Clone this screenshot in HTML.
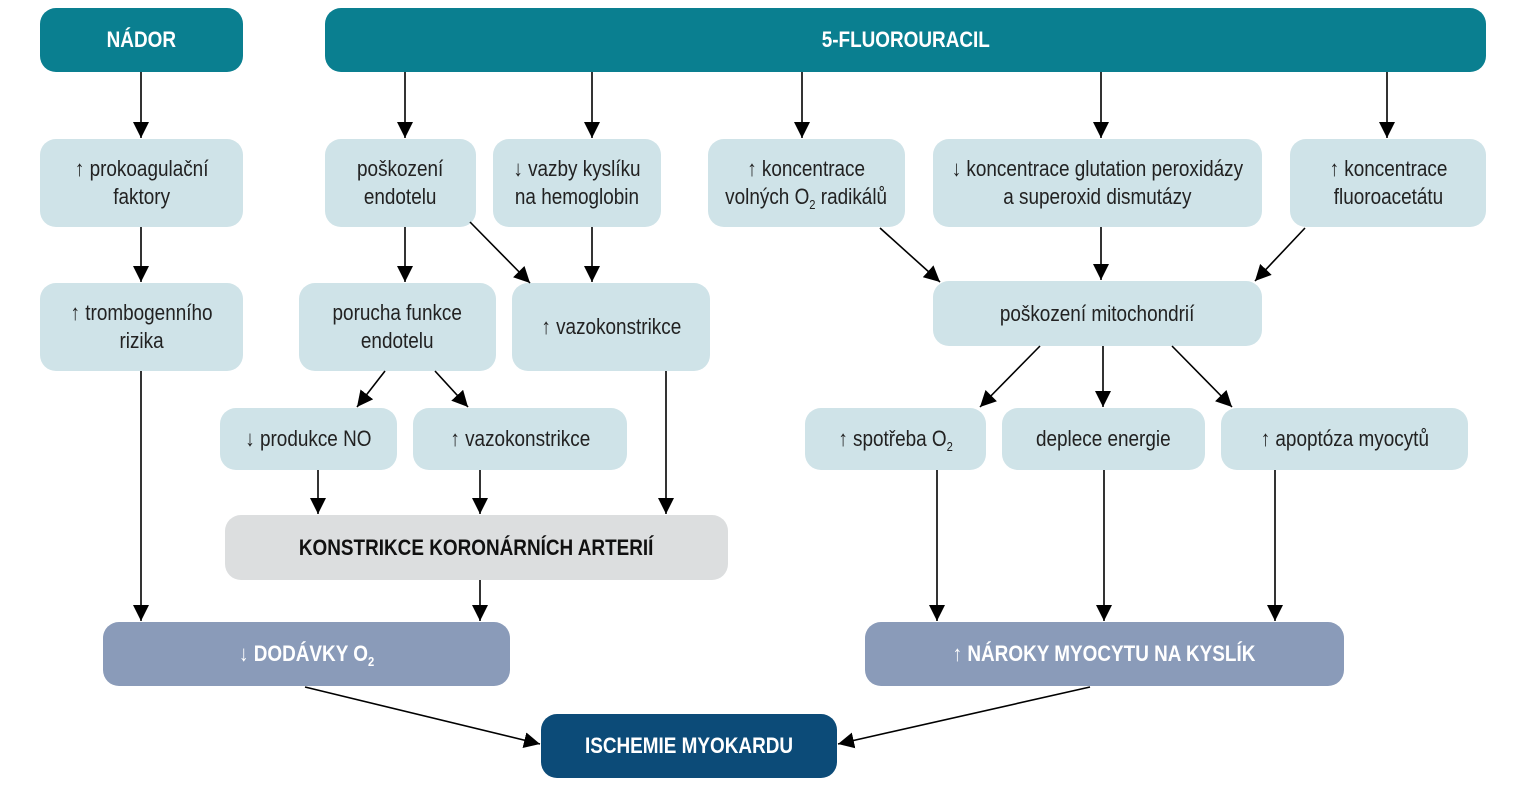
<!DOCTYPE html>
<html><head><meta charset="utf-8">
<style>
html,body{margin:0;padding:0;background:#fff;}
#c{position:relative;width:1515px;height:794px;overflow:hidden;font-family:"Liberation Sans",sans-serif;}
.b{position:absolute;display:flex;align-items:center;justify-content:center;text-align:center;border-radius:16px;font-size:22px;line-height:28px;color:#222;box-sizing:border-box;}
.b>span{display:inline-block;transform:scaleX(0.86);white-space:nowrap;}
.t{background:#0a7f90;color:#fff;font-weight:bold;}
.l{background:#cfe3e8;}
.g{background:#dcdedf;font-weight:bold;color:#111;}
.p{background:#8a9bb9;color:#fff;font-weight:bold;}
.d{background:#0c4b78;color:#fff;font-weight:bold;}
sub{font-size:13px;vertical-align:-5px;line-height:0;}
svg{position:absolute;left:0;top:0;}
</style></head><body><div id="c">
<div class="b t" style="left:40px;top:8px;width:203px;height:64px"><span>NÁDOR</span></div>
<div class="b t" style="left:325px;top:8px;width:1161px;height:64px"><span>5-FLUOROURACIL</span></div>

<div class="b l" style="left:40px;top:139px;width:203px;height:88px"><span>↑ prokoagulační<br>faktory</span></div>
<div class="b l" style="left:325px;top:139px;width:151px;height:88px"><span>poškození<br>endotelu</span></div>
<div class="b l" style="left:493px;top:139px;width:168px;height:88px"><span>↓ vazby kyslíku<br>na hemoglobin</span></div>
<div class="b l" style="left:708px;top:139px;width:197px;height:88px"><span>↑ koncentrace<br>volných O<sub>2</sub> radikálů</span></div>
<div class="b l" style="left:933px;top:139px;width:329px;height:88px"><span>↓ koncentrace glutation peroxidázy<br>a superoxid dismutázy</span></div>
<div class="b l" style="left:1290px;top:139px;width:196px;height:88px"><span>↑ koncentrace<br>fluoroacetátu</span></div>

<div class="b l" style="left:40px;top:283px;width:203px;height:88px"><span>↑ trombogenního<br>rizika</span></div>
<div class="b l" style="left:299px;top:283px;width:197px;height:88px"><span>porucha funkce<br>endotelu</span></div>
<div class="b l" style="left:512px;top:283px;width:198px;height:88px"><span>↑ vazokonstrikce</span></div>
<div class="b l" style="left:933px;top:281px;width:329px;height:65px"><span>poškození mitochondrií</span></div>

<div class="b l" style="left:220px;top:408px;width:177px;height:62px"><span>↓ produkce NO</span></div>
<div class="b l" style="left:413px;top:408px;width:214px;height:62px"><span>↑ vazokonstrikce</span></div>
<div class="b l" style="left:805px;top:408px;width:181px;height:62px"><span>↑ spotřeba O<sub>2</sub></span></div>
<div class="b l" style="left:1002px;top:408px;width:203px;height:62px"><span>deplece energie</span></div>
<div class="b l" style="left:1221px;top:408px;width:247px;height:62px"><span>↑ apoptóza myocytů</span></div>

<div class="b g" style="left:225px;top:515px;width:503px;height:65px"><span>KONSTRIKCE KORONÁRNÍCH ARTERIÍ</span></div>
<div class="b p" style="left:103px;top:622px;width:407px;height:64px"><span>↓ DODÁVKY O<sub>2</sub></span></div>
<div class="b p" style="left:865px;top:622px;width:479px;height:64px"><span>↑ NÁROKY MYOCYTU NA KYSLÍK</span></div>
<div class="b d" style="left:541px;top:714px;width:296px;height:64px"><span>ISCHEMIE MYOKARDU</span></div>

<svg width="1515" height="794">
<defs><marker id="a" markerUnits="userSpaceOnUse" markerWidth="26" markerHeight="16" refX="16" refY="8" orient="auto"><path d="M0,0 L16,8 L0,16 Z" fill="#000"/></marker></defs>
<g stroke="#000" stroke-width="1.6" fill="none" marker-end="url(#a)">
<line x1="141" y1="72" x2="141" y2="138"/>
<line x1="405" y1="72" x2="405" y2="138"/>
<line x1="592" y1="72" x2="592" y2="138"/>
<line x1="802" y1="72" x2="802" y2="138"/>
<line x1="1101" y1="72" x2="1101" y2="138"/>
<line x1="1387" y1="72" x2="1387" y2="138"/>
<line x1="141" y1="227" x2="141" y2="282"/>
<line x1="405" y1="227" x2="405" y2="282"/>
<line x1="592" y1="227" x2="592" y2="282"/>
<line x1="470" y1="222" x2="530" y2="283"/>
<line x1="1101" y1="227" x2="1101" y2="280"/>
<line x1="880" y1="228" x2="940" y2="282"/>
<line x1="1305" y1="228" x2="1255" y2="281"/>
<line x1="1040" y1="346" x2="980" y2="407"/>
<line x1="1103" y1="346" x2="1103" y2="407"/>
<line x1="1172" y1="346" x2="1232" y2="407"/>
<line x1="385" y1="371" x2="357" y2="407"/>
<line x1="435" y1="371" x2="468" y2="407"/>
<line x1="318" y1="470" x2="318" y2="514"/>
<line x1="480" y1="470" x2="480" y2="514"/>
<line x1="666" y1="371" x2="666" y2="514"/>
<line x1="141" y1="371" x2="141" y2="621"/>
<line x1="480" y1="580" x2="480" y2="621"/>
<line x1="937" y1="470" x2="937" y2="621"/>
<line x1="1104" y1="470" x2="1104" y2="621"/>
<line x1="1275" y1="470" x2="1275" y2="621"/>
<line x1="305" y1="687" x2="540" y2="744"/>
<line x1="1090" y1="687" x2="838" y2="744"/>
</g>
</svg>
</div></body></html>
